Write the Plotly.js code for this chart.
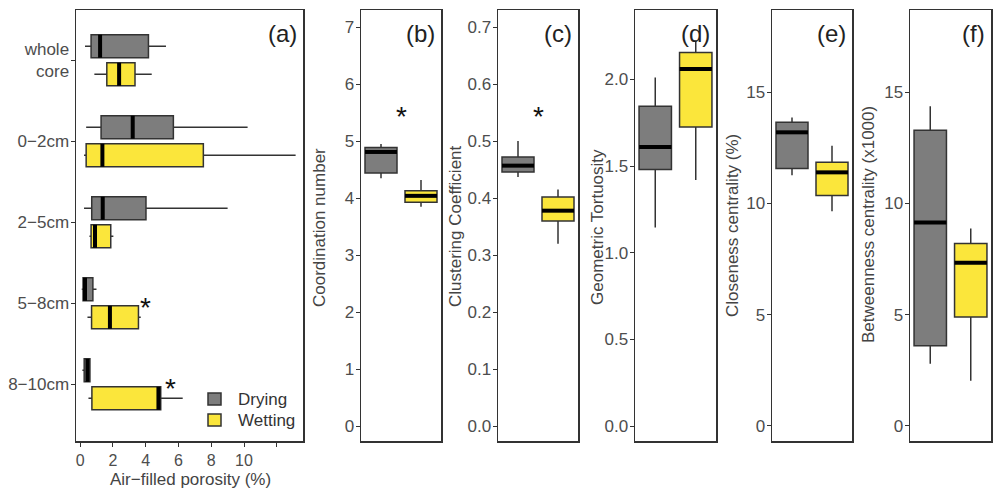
<!DOCTYPE html>
<html>
<head>
<meta charset="utf-8">
<script src="https://cdn.plot.ly/plotly-3.0.1.min.js"></script>
<style>html,body{margin:0;padding:0;background:#fff;}#chart{width:1000px;height:492px;}</style>
</head>
<body>
<div id="chart"></div>
<script>
// ---------- Panel (a): air-filled porosity by depth ----------
const depthCats = ['whole<br>core', '0\u22122cm', '2\u22125cm', '5\u22128cm', '8\u221210cm'];
const dryLow  = [0.30, 0.37, 0.24, 0.10, 0.14];
const dryQ1   = [0.67, 1.28, 0.71, 0.18, 0.25];
const dryMed  = [1.22, 3.21, 1.38, 0.30, 0.45];
const dryQ3   = [4.17, 5.69, 4.02, 0.78, 0.60];
const dryHigh = [5.24, 10.22, 9.00, 1.00, 0.64];
const wetLow  = [0.87, 0.24, 0.57, 0.45, 0.51];
const wetQ1   = [1.63, 0.37, 0.67, 0.70, 0.72];
const wetMed  = [2.38, 1.36, 0.91, 1.82, 4.78];
const wetQ3   = [3.35, 7.52, 1.87, 3.56, 4.92];
const wetHigh = [4.37, 13.15, 2.03, 3.70, 6.26];
const aTickVals = [0, 2, 4, 6, 8, 10, 12];
const aTickText = ['0', '2', '4', '6', '8', '10', ''];
const aSigCats = [3, 4];          // index into depthCats: 5-8cm, 8-10cm
const aSigX = [4.02, 5.53];

// ---------- Panels (b)-(f): network metrics [low, q1, median, q3, high] ----------
const groups = ['Drying', 'Wetting'];
const coordDry  = [4.35, 4.44, 4.81, 4.89, 4.95];
const coordWet  = [3.85, 3.93, 4.04, 4.13, 4.32];
const clustDry  = [0.437, 0.446, 0.457, 0.472, 0.500];
const clustWet  = [0.320, 0.360, 0.378, 0.402, 0.415];
const tortDry   = [1.146, 1.48, 1.61, 1.845, 2.01];
const tortWet   = [1.42, 1.725, 2.06, 2.155, 2.22];
const closeDry  = [11.27, 11.57, 13.2, 13.65, 13.87];
const closeWet  = [9.65, 10.36, 11.4, 11.85, 12.6];
const betwDry   = [2.79, 3.60, 9.14, 13.29, 14.37];
const betwWet   = [2.03, 4.90, 7.34, 8.20, 8.87];
const sigStarB = 5.49;
const sigStarC = 0.549;

const panelLabels = ['(a)', '(b)', '(c)', '(d)', '(e)', '(f)'];
const yTitles = ['Coordination number', 'Clustering Coefficient', 'Geometric Tortuosity',
                 'Closeness centrality (%)', 'Betweenness centrality (x1000)'];
const xTitleA = 'Air\u2212filled porosity (%)';

// ---------- styling ----------
const FONT = 'Liberation Sans, Arial, sans-serif';
const GRAY = '#7d7d7d', YELLOW = '#fbe63b', EDGE = '#333333';
const W = 1000, H = 492;
const py = p => 1 - p / H;
const frameTop = 10, frameBot = 441;
const colX = [[76, 303], [361, 441], [498, 578], [635, 716], [772, 852], [910, 991]];

const traces = [];
const shapes = [];
const annotations = [];

// panel (a) positions (numeric axis, top = first category)
const nC = depthCats.length;
const catPos = depthCats.map((c, i) => nC - i);
const off = 0.173, bw = 0.284;
const aSets = [
  {name: groups[0], color: GRAY, low: dryLow, q1: dryQ1, med: dryMed, q3: dryQ3, high: dryHigh, sh: +off},
  {name: groups[1], color: YELLOW, low: wetLow, q1: wetQ1, med: wetMed, q3: wetQ3, high: wetHigh, sh: -off}
];
aSets.forEach(s => {
  const pos = catPos.map(p => p + s.sh);
  traces.push({
    type: 'box', orientation: 'h', name: s.name, showlegend: false,
    y: pos, q1: s.q1, median: s.med, q3: s.q3, lowerfence: s.low, upperfence: s.high,
    width: bw, whiskerwidth: 0, boxpoints: false,
    fillcolor: s.color, line: {color: EDGE, width: 1.5},
    xaxis: 'x', yaxis: 'y', hoverinfo: 'skip'
  });
  s.med.forEach((m, i) => shapes.push({
    type: 'line', xref: 'x', yref: 'y', x0: m, x1: m,
    y0: pos[i] - bw / 2, y1: pos[i] + bw / 2, line: {color: '#000', width: 4}
  }));
});

// panels (b)-(f)
const metricSets = [[coordDry, coordWet], [clustDry, clustWet], [tortDry, tortWet], [closeDry, closeWet], [betwDry, betwWet]];
metricSets.forEach((pair, k) => {
  const ax = k + 2;
  pair.forEach((st, g) => {
    const pos = g + 1;
    traces.push({
      type: 'box', name: groups[g], showlegend: false,
      x: [pos], lowerfence: [st[0]], q1: [st[1]], median: [st[2]], q3: [st[3]], upperfence: [st[4]],
      width: 0.8, whiskerwidth: 0, boxpoints: false,
      fillcolor: g === 0 ? GRAY : YELLOW, line: {color: EDGE, width: 1.5},
      xaxis: 'x' + ax, yaxis: 'y' + ax, hoverinfo: 'skip'
    });
    shapes.push({
      type: 'line', xref: 'x' + ax, yref: 'y' + ax, x0: pos - 0.4, x1: pos + 0.4,
      y0: st[2], y1: st[2], line: {color: '#000', width: 4}
    });
  });
});

// legend (inside panel a, bottom right)
const legColors = [GRAY, YELLOW];
const legRowsY = [399, 420];
groups.forEach((g, i) => {
  const cy = legRowsY[i];
  shapes.push({type: 'rect', xref: 'paper', yref: 'paper',
    x0: 208 / W, x1: 221 / W, y0: py(cy + 6), y1: py(cy - 6),
    fillcolor: legColors[i], line: {color: EDGE, width: 1.5}});
  annotations.push({xref: 'paper', yref: 'paper', x: 236 / W, y: py(cy), xanchor: 'left', yanchor: 'middle',
    text: g, showarrow: false, font: {family: FONT, size: 17, color: '#333'}});
});

// significance stars
const starFont = {family: FONT, size: 28, color: '#111'};
aSigCats.forEach((ci, i) => annotations.push({
  xref: 'x', yref: 'y', x: aSigX[i], y: catPos[ci], text: '*', showarrow: false,
  font: starFont, yshift: -4
}));
annotations.push({xref: 'x2', yref: 'y2', x: 1.5, y: sigStarB, text: '*', showarrow: false, font: starFont, yshift: -3});
annotations.push({xref: 'x3', yref: 'y3', x: 1.5, y: sigStarC, text: '*', showarrow: false, font: starFont, yshift: -3});

// panel labels
panelLabels.forEach((t, i) => annotations.push({
  xref: 'paper', yref: 'paper', x: (colX[i][1] - 4) / W, y: py(33), xanchor: 'right', yanchor: 'middle',
  text: t, showarrow: false, font: {family: FONT, size: 24, color: '#222'}
}));

// y titles (b)-(f)
const yTitleX = [320, 455, 597, 732, 869];
const yTitleY = [228, 226, 227, 226, 225];
yTitles.forEach((t, i) => annotations.push({
  xref: 'paper', yref: 'paper', x: yTitleX[i] / W, y: py(yTitleY[i]), xanchor: 'center', yanchor: 'middle',
  text: t, textangle: -90, showarrow: false, font: {family: FONT, size: 17, color: '#444'}
}));
// x title (a)
annotations.push({
  xref: 'paper', yref: 'paper', x: 190 / W, y: py(479), xanchor: 'center', yanchor: 'middle',
  text: xTitleA, showarrow: false, font: {family: FONT, size: 17, color: '#444'}
});

const baseAx = {
  showline: true, mirror: true, linecolor: EDGE, linewidth: 1.5,
  ticks: 'outside', ticklen: 4, tickwidth: 1, tickcolor: EDGE,
  showgrid: false, zeroline: false, fixedrange: true,
  tickfont: {family: FONT, size: 17, color: '#4d4d4d'}
};
const yDom = [py(frameBot), py(frameTop)];
const layout = {
  width: W, height: H, margin: {l: 0, r: 0, t: 0, b: 0},
  paper_bgcolor: '#fff', plot_bgcolor: '#fff',
  showlegend: false,
  shapes: shapes, annotations: annotations,
  xaxis: Object.assign({}, baseAx, {domain: [colX[0][0] / W, colX[0][1] / W], anchor: 'y',
         range: [-0.25, 13.6], tickmode: 'array', tickvals: aTickVals, ticktext: aTickText,
         tickfont: {family: FONT, size: 16, color: '#4d4d4d'}}),
  yaxis: Object.assign({}, baseAx, {domain: yDom, anchor: 'x', range: [0.30, 5.62],
         tickmode: 'array', tickvals: catPos, ticktext: depthCats, ticklabelstandoff: -2})
};
const yRanges = [[-0.26, 7.3], [-0.026, 0.73], [-0.086, 2.40], [-0.68, 18.7], [-0.68, 18.7]];
const yTicks = [[0, 1, 2, 3, 4, 5, 6, 7], [0, 0.1, 0.2, 0.3, 0.4, 0.5, 0.6, 0.7], [0, 0.5, 1, 1.5, 2], [0, 5, 10, 15], [0, 5, 10, 15]];
const yFmt = ['d', '.1f', '.1f', 'd', 'd'];
for (let k = 0; k < 5; k++) {
  const ax = k + 2;
  layout['xaxis' + ax] = Object.assign({}, baseAx, {domain: [colX[k + 1][0] / W, colX[k + 1][1] / W],
    anchor: 'y' + ax, range: [0.5, 2.5], ticks: '', showticklabels: false});
  layout['yaxis' + ax] = Object.assign({}, baseAx, {domain: yDom, anchor: 'x' + ax, range: yRanges[k],
    tickmode: 'array', tickvals: yTicks[k], tickformat: yFmt[k], ticklabelstandoff: -2});
}

Plotly.newPlot('chart', traces, layout, {displayModeBar: false, staticPlot: true});
</script>
</body>
</html>
